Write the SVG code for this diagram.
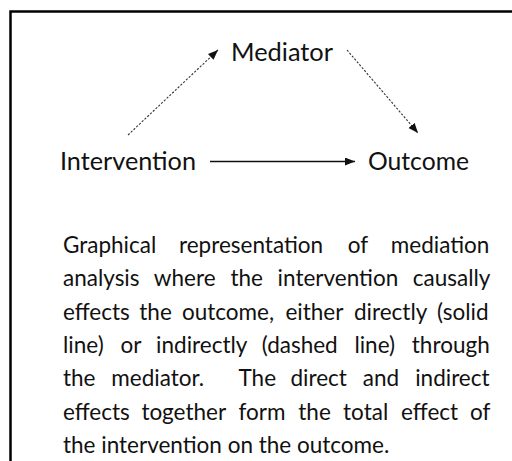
<svg xmlns="http://www.w3.org/2000/svg" width="512" height="461" viewBox="0 0 512 461">
<style>
.lbl{font-family:Lato,"Open Sans","Liberation Sans",sans-serif;font-size:25.5px;fill:#111}
.par{font-family:Lato,"Open Sans","Liberation Sans",sans-serif;font-size:22.5px;fill:#111}
.solid{stroke:#111;stroke-width:1.4;fill:none}
.dash{stroke:#333;stroke-width:1.1;stroke-dasharray:2.2 1.6;fill:none}
</style>
<defs>
<marker id="ah" markerUnits="userSpaceOnUse" markerWidth="11" markerHeight="9" refX="10" refY="4" orient="auto">
<path d="M0,0 L10,4 L0,8 Z" fill="#111"/>
</marker>
</defs>
<rect width="512" height="461" fill="#fff"/>
<path d="M10.5,461 V11.5 H512" fill="none" stroke="#000" stroke-width="2.5"/>
<g id="connectors">
<line class="solid" x1="210" y1="161.5" x2="355" y2="161.5" marker-end="url(#ah)"/>
<line class="dash" x1="128" y1="135" x2="218" y2="50" marker-end="url(#ah)"/>
<line class="dash" x1="347" y1="50" x2="418" y2="133" marker-end="url(#ah)"/>
</g>
<g id="node-mediator"><text class="lbl" x="231" y="61" textLength="102" lengthAdjust="spacingAndGlyphs">Mediator</text></g>
<g id="node-intervention"><text class="lbl" x="60" y="170" textLength="136" lengthAdjust="spacingAndGlyphs">Intervention</text></g>
<g id="node-outcome"><text class="lbl" x="368" y="170" textLength="101" lengthAdjust="spacingAndGlyphs">Outcome</text></g>
<g id="caption">
<text class="par" y="253"><tspan x="63">Graphical</tspan><tspan x="179">representation</tspan><tspan x="347.7">of</tspan><tspan x="390.8">mediation</tspan></text>
<text class="par" y="286.3"><tspan x="63">analysis</tspan><tspan x="153.8">where</tspan><tspan x="230.4">the</tspan><tspan x="277.6">intervention</tspan><tspan x="412.8">causally</tspan></text>
<text class="par" y="319.6"><tspan x="63">effects</tspan><tspan x="139.3">the</tspan><tspan x="182">outcome,</tspan><tspan x="285.4">either</tspan><tspan x="354">directly</tspan><tspan x="437.1">(solid</tspan></text>
<text class="par" y="353"><tspan x="63">line)</tspan><tspan x="120.5">or</tspan><tspan x="156.1">indirectly</tspan><tspan x="261.8">(dashed</tspan><tspan x="354.4">line)</tspan><tspan x="411.8">through</tspan></text>
<text class="par" y="386.3"><tspan x="63">the</tspan><tspan x="111.3">mediator.</tspan><tspan x="238.5">The</tspan><tspan x="290.5">direct</tspan><tspan x="362.8">and</tspan><tspan x="415.2">indirect</tspan></text>
<text class="par" y="419.6"><tspan x="63">effects</tspan><tspan x="141.4">together</tspan><tspan x="238.5">form</tspan><tspan x="298.3">the</tspan><tspan x="343.1">total</tspan><tspan x="401.1">effect</tspan><tspan x="470">of</tspan></text>
<text class="par" x="63" y="453">the intervention on the outcome.</text>
</g>
</svg>
